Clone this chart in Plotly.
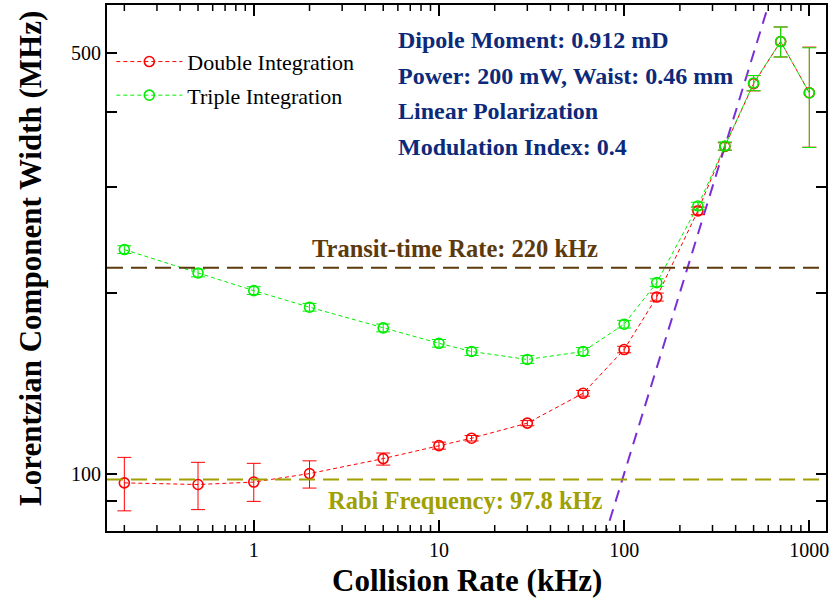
import math
import plotly.graph_objects as go

# ---------------- data ----------------
collision_rate = [0.2, 0.5, 1, 2, 5, 10, 15, 30, 60, 100, 150, 250, 350, 500, 700, 1000]

double_width = [96.5, 95.9, 96.8, 100.0, 105.9, 111.3, 114.5, 121.3, 136.0, 160.8,
                196.6, 273.5, 350.0, 445.0, 523.0, 430.0]
double_err_plus = [9.9, 8.5, 7.2, 5.0, 2.3, 1.5, 1.2, 1.2, 1.5, 2.0, 3.0, 4.0, 5.0, 14.0, 30.0, 82.0]
double_err_minus = [9.8, 8.8, 6.9, 5.4, 2.6, 1.5, 1.2, 1.2, 1.5, 2.0, 3.0, 4.0, 5.0, 12.0, 30.0, 81.0]

triple_width = [235.8, 215.6, 201.5, 189.1, 174.7, 164.7, 159.6, 154.8, 159.6, 177.2,
                207.8, 278.6, 350.6, 446.3, 523.0, 429.6]
triple_err = [3.5, 3.2, 3.0, 2.8, 2.6, 2.4, 2.4, 2.3, 2.4, 2.6, 3.0, 4.0, 5.5, 13.0, 30.0, 81.0]

transit_rate = 220.0
rabi_freq = 97.8
# y = x reference line (collision-broadening limit)
limit_x = [50, 1500]
limit_y = list(limit_x)

info_lines = ["Dipole Moment: 0.912 mD", "Power: 200 mW, Waist: 0.46 mm",
              "Linear Polarization", "Modulation Index: 0.4"]

x_major = [1, 10, 100, 1000]
x_minor = [m * 10 ** e for e in range(-1, 3) for m in range(2, 10)
           if 0.17 < m * 10 ** e < 1200]
y_ticks = [90, 100, 200, 300, 400, 500]
y_ticktext = ["", "100", "", "", "", "500"]

# ---------------- figure ----------------
FONT = "Liberation Serif"
RED = "#ff0000"
GREEN = "#00ee00"
BROWN = "#5c3a0c"
OLIVE = "#a0a000"
PURPLE = "#7a2fd6"
NAVY = "#0d2a7a"

X_RANGE = [-0.7926, 3.090]
PLOT_H = 526.0

fig = go.Figure()

fig.add_trace(go.Scatter(
    x=limit_x, y=limit_y, mode="lines", showlegend=False,
    line=dict(color=PURPLE, width=2, dash="12px,8px"), hoverinfo="skip"))

fig.add_trace(go.Scatter(
    x=collision_rate, y=double_width, mode="lines+markers", name="Double Integration",
    legendgroup="d",
    line=dict(color=RED, width=1, dash="4px,3px"),
    marker=dict(symbol="circle-open", size=10, color=RED, line=dict(width=1.6, color=RED)),
    error_y=dict(type="data", array=double_err_plus, arrayminus=double_err_minus,
                 color=RED, thickness=1, width=7)))

fig.add_trace(go.Scatter(
    x=collision_rate, y=triple_width, mode="lines+markers", name="Triple Integration",
    legendgroup="t",
    line=dict(color=GREEN, width=1, dash="4px,3px"),
    marker=dict(symbol="circle-open", size=10, color=GREEN, line=dict(width=1.6, color=GREEN)),
    error_y=dict(type="data", array=triple_err, color=GREEN, thickness=1, width=7)))

fig.add_shape(type="line", xref="paper", x0=0, x1=1, y0=transit_rate, y1=transit_rate,
              line=dict(color=BROWN, width=2, dash="16px,8px"))
fig.add_shape(type="line", xref="paper", x0=0, x1=1, y0=rabi_freq, y1=rabi_freq,
              line=dict(color=OLIVE, width=2, dash="16px,8px"))

# minor x ticks (bottom and top, pointing inward)
for xv in x_minor:
    fig.add_shape(type="line", xref="x", yref="paper", x0=xv, x1=xv, y0=0, y1=6 / PLOT_H,
                  line=dict(color="black", width=1.5))
    fig.add_shape(type="line", xref="x", yref="paper", x0=xv, x1=xv, y0=1, y1=1 - 6 / PLOT_H,
                  line=dict(color="black", width=1.5))

fig.add_annotation(x=(456 - 106.7) / 721.6, xref="paper", y=math.log10(transit_rate), yref="y",
                   yshift=19, yanchor="middle",
                   text="<b>Transit-time Rate: 220 kHz</b>", showarrow=False,
                   font=dict(family=FONT, size=24.5, color=BROWN))
fig.add_annotation(x=(466 - 106.7) / 721.6, xref="paper", y=math.log10(rabi_freq), yref="y",
                   yshift=-21, yanchor="middle",
                   text="<b>Rabi Frequency: 97.8 kHz</b>", showarrow=False,
                   font=dict(family=FONT, size=24.5, color=OLIVE))

for i, t in enumerate(info_lines):
    fig.add_annotation(x=(397 - 106.7) / 721.6, xref="paper", xanchor="left",
                       y=1 - (40 - 4.7 + i * 35.5) / PLOT_H, yref="paper", yanchor="middle",
                       text=f"<b>{t}</b>", showarrow=False,
                       font=dict(family=FONT, size=24, color=NAVY))

# axis titles
fig.add_annotation(x=(30 - 106.7) / 721.6, xref="paper", xanchor="center",
                   y=1 - (258 - 4.7) / PLOT_H, yref="paper", yanchor="middle",
                   text="<b>Lorentzian Component Width (MHz)</b>", textangle=-90,
                   showarrow=False, font=dict(family=FONT, size=31, color="black"))
fig.add_annotation(x=(467.5 - 106.7) / 721.6, xref="paper", xanchor="center",
                   y=(530.7 - 580) / PLOT_H, yref="paper", yanchor="middle",
                   text="<b>Collision Rate (kHz)</b>", showarrow=False,
                   font=dict(family=FONT, size=31, color="black"))

fig.update_layout(
    width=831, height=598,
    margin=dict(l=107, r=3, t=5, b=67),
    paper_bgcolor="white", plot_bgcolor="white",
    font=dict(family=FONT, size=20, color="black"),
    showlegend=True,
    legend=dict(x=0.006, y=0.932, xanchor="left", yanchor="top",
                bgcolor="rgba(0,0,0,0)", font=dict(family=FONT, size=22),
                itemwidth=66, tracegroupgap=2),
    xaxis=dict(
        type="log", range=X_RANGE,
        tickmode="array", tickvals=x_major, ticktext=[str(v) for v in x_major],
        ticks="inside", ticklen=11, tickwidth=1.5, tickcolor="black",
        showline=True, linecolor="black", linewidth=2, mirror="ticks",
        showgrid=False, zeroline=False,
        tickfont=dict(family=FONT, size=20),
    ),
    yaxis=dict(
        type="log", range=[1.9045, 2.7793],
        tickmode="array", tickvals=y_ticks, ticktext=y_ticktext,
        ticks="inside", ticklen=10, tickwidth=1.5, tickcolor="black",
        showline=True, linecolor="black", linewidth=2, mirror="ticks",
        showgrid=False, zeroline=False,
        tickfont=dict(family=FONT, size=20),
    ),
)

fig.write_html("out.html")
